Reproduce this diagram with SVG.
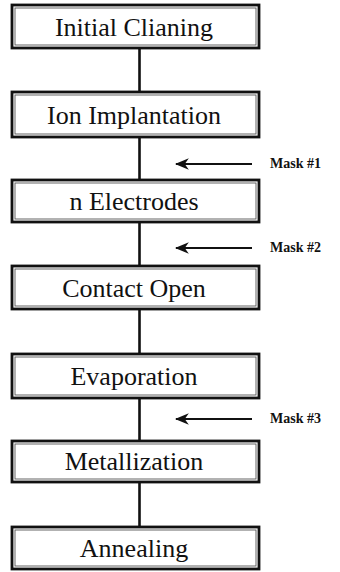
<svg xmlns="http://www.w3.org/2000/svg" width="340" height="572" viewBox="0 0 340 572">
<style>
.box{fill:#fff;stroke:#111;stroke-width:2.8}
.inner{fill:none;stroke:#555;stroke-width:0.9}
.lbl{font-size:26px;fill:#111;text-anchor:middle}
.mask{font-size:14px;font-weight:bold;fill:#111}
.conn{stroke:#111;stroke-width:2.6;fill:none}
.arr{stroke:#111;stroke-width:2;fill:none}
</style>
<defs>
<marker id="ah" viewBox="0 0 12 10" refX="11" refY="5" markerWidth="7" markerHeight="6" orient="auto" markerUnits="strokeWidth">
<path d="M12,5 L0,0 L3.5,5 L0,10 Z" fill="#111"/>
</marker>
</defs>
<g id="connectors">
<line class="conn" x1="139.5" y1="48" x2="139.5" y2="92"/>
<line class="conn" x1="139.5" y1="137" x2="139.5" y2="180"/>
<line class="conn" x1="139.5" y1="222" x2="139.5" y2="266"/>
<line class="conn" x1="139.5" y1="309" x2="139.5" y2="354"/>
<line class="conn" x1="139.5" y1="398" x2="139.5" y2="441"/>
<line class="conn" x1="139.5" y1="482" x2="139.5" y2="527"/>
<line class="arr" x1="252" y1="164" x2="176" y2="164" marker-end="url(#ah)"/>
<line class="arr" x1="252" y1="248" x2="176" y2="248" marker-end="url(#ah)"/>
<line class="arr" x1="252" y1="419" x2="176" y2="419" marker-end="url(#ah)"/>
</g>
<g font-family="'Liberation Serif', 'Times New Roman', 'DejaVu Serif', serif">
<g id="n1"><rect class="box" x="12" y="5" width="247" height="43"/><rect class="inner" x="15" y="8" width="241" height="37"/><text class="lbl" x="134" y="36">Initial Clianing</text></g>
<g id="n2"><rect class="box" x="12" y="92" width="247" height="45"/><rect class="inner" x="15" y="95" width="241" height="39"/><text class="lbl" x="134" y="124">Ion Implantation</text></g>
<g id="n3"><rect class="box" x="12" y="180" width="247" height="42"/><rect class="inner" x="15" y="183" width="241" height="36"/><text class="lbl" x="134" y="210">n Electrodes</text></g>
<g id="n4"><rect class="box" x="12" y="266" width="247" height="43"/><rect class="inner" x="15" y="269" width="241" height="37"/><text class="lbl" x="134" y="297">Contact Open</text></g>
<g id="n5"><rect class="box" x="12" y="354" width="247" height="44"/><rect class="inner" x="15" y="357" width="241" height="38"/><text class="lbl" x="134" y="385">Evaporation</text></g>
<g id="n6"><rect class="box" x="12" y="441" width="247" height="41"/><rect class="inner" x="15" y="444" width="241" height="35"/><text class="lbl" x="134" y="470">Metallization</text></g>
<g id="n7"><rect class="box" x="12" y="527" width="247" height="42"/><rect class="inner" x="15" y="530" width="241" height="36"/><text class="lbl" x="134" y="557">Annealing</text></g>
<g id="masks">
<text class="mask" x="270" y="168">Mask  #1</text>
<text class="mask" x="270" y="252">Mask  #2</text>
<text class="mask" x="270" y="423">Mask  #3</text>
</g>
</g>
</svg>
